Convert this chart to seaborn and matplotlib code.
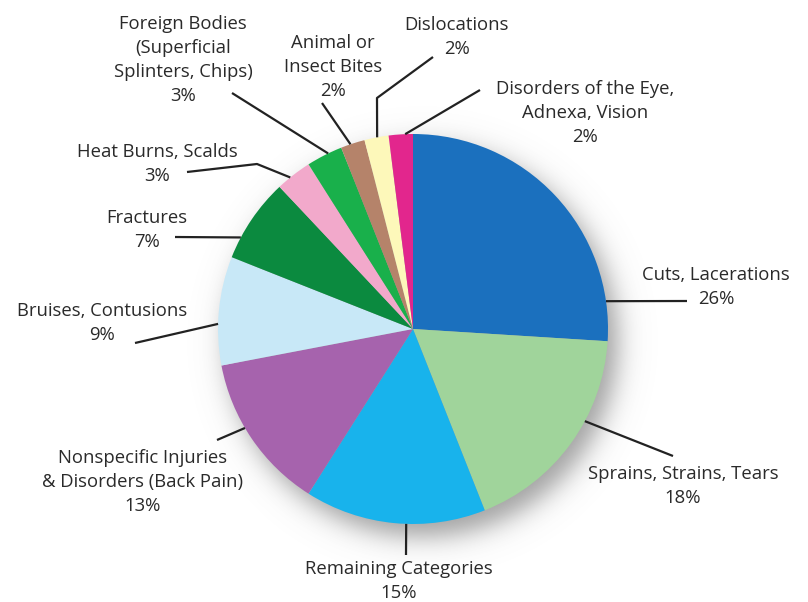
import numpy as np
import matplotlib
matplotlib.use("Agg")
import matplotlib.pyplot as plt
import seaborn as sns

# Injury categories, clockwise from twelve o'clock
categories = [
    "Cuts, Lacerations",
    "Sprains, Strains, Tears",
    "Remaining Categories",
    "Nonspecific Injuries\n& Disorders (Back Pain)",
    "Bruises, Contusions",
    "Fractures",
    "Heat Burns, Scalds",
    "Foreign Bodies\n(Superficial\nSplinters, Chips)",
    "Animal or\nInsect Bites",
    "Dislocations",
    "Disorders of the Eye,\nAdnexa, Vision",
]
shares = [26, 18, 15, 13, 9, 7, 3, 3, 2, 2, 2]
colors = [
    "#1b70be", "#a0d49b", "#18b3ec", "#a663ad", "#c8e8f7", "#0b8a3f",
    "#f2a9cb", "#19b04b", "#b5836a", "#fdf8ba", "#e2268d",
]

# Label layout in pixel space (y measured from the top):
# text centre, angle where the leader touches the rim, and leader
# waypoints listed from the rim outwards
label_layout = [
    ((716, 287), 8.2,   [(687, 301)]),
    ((683, 486), -28.2, [(673, 456)]),
    ((399, 581), -92.0, [(406, 555)]),
    ((143, 482), 210.5, [(217, 440)]),
    ((102, 323), 178.5, [(135, 343)]),
    ((147, 230), 152.0, [(175, 237)]),
    ((157, 164), 129.0, [(257, 164), (187, 172)]),
    ((183, 60),  115.8, [(232, 93)]),
    ((333, 67),  108.7, [(322, 103)]),
    ((457, 37),  100.6, [(377, 98), (433, 57)]),
    ((585, 113), 92.3,  [(480, 90)]),
]

W, H = 808, 602
CX, CY, R = 413, H - 329, 195

sns.set_theme(style="white")
plt.rcParams["font.family"] = ["Open Sans", "DejaVu Sans"]

fig = plt.figure(figsize=(W / 100, H / 100), dpi=100)
ax = fig.add_axes([0, 0, 1, 1])

# soft drop shadow under the disc
yy, xx = np.mgrid[0:H, 0:W]
d = np.hypot(xx - (CX + 9), (H - yy) - (CY - 12))
alpha = 0.62 / (1 + np.exp((d - R) / 8.0))
shadow = np.zeros((H, W, 4))
shadow[..., :3] = 0.4
shadow[..., 3] = alpha
ax.imshow(shadow, extent=(0, W, 0, H), origin="upper", zorder=0)

ax.pie(
    shares,
    colors=colors,
    startangle=90,
    counterclock=False,
    center=(CX, CY),
    radius=R,
    wedgeprops=dict(linewidth=0),
    frame=True,
)
for w in ax.patches:
    w.set_zorder(2)

for name, share, (txy, ang, pts) in zip(categories, shares, label_layout):
    a = np.deg2rad(ang)
    xs = [CX + R * np.cos(a)] + [p[0] for p in pts]
    ys = [CY + R * np.sin(a)] + [H - p[1] for p in pts]
    ax.plot(xs, ys, color="#222222", lw=1.6, solid_capstyle="butt", zorder=3)
    ax.text(
        txy[0], H - txy[1], f"{name}\n{share}%",
        ha="center", va="center", fontsize=13.3, color="#2a2a2a",
        linespacing=1.45, zorder=4,
    )

ax.set_xlim(0, W)
ax.set_ylim(0, H)
ax.set_aspect("equal")
ax.axis("off")

fig.savefig("out.png", dpi=100, facecolor="white")
